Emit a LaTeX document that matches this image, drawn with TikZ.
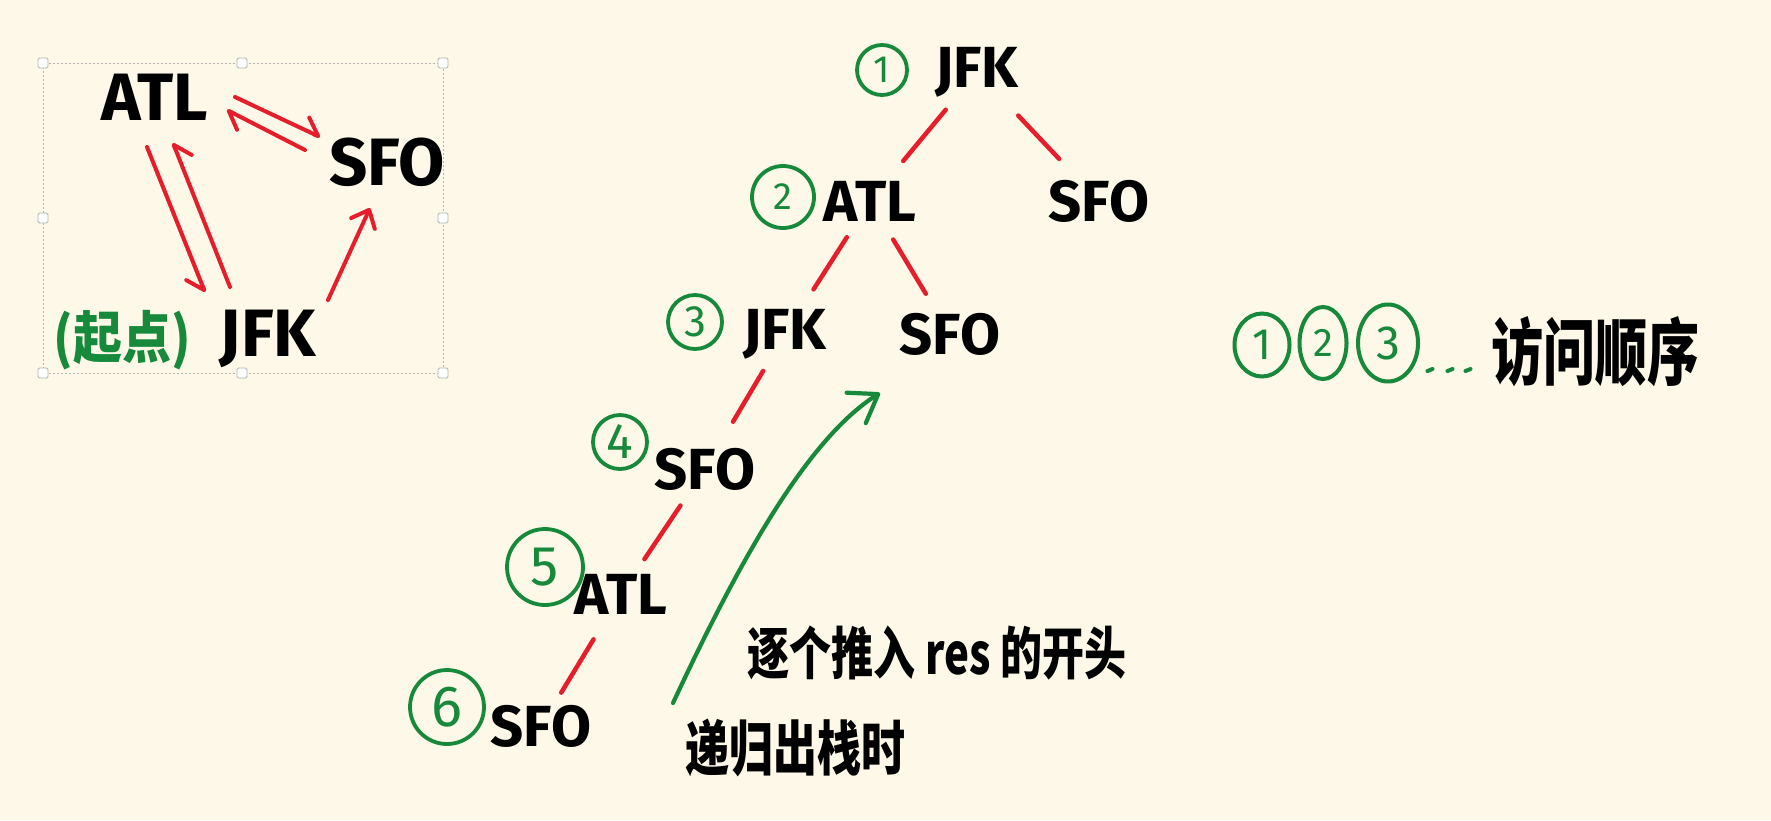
\documentclass[tikz,border=0pt]{standalone}
\usepackage{fontspec}
\setmainfont{Fira Sans}
\newfontfamily\cjk{Noto Sans CJK SC}
\usetikzlibrary{arrows.meta,shapes.geometric}
\definecolor{bgc}{HTML}{FDF8E7}
\definecolor{grn}{HTML}{17893A}
\definecolor{rd}{HTML}{E61E2B}
\definecolor{hdl}{HTML}{B4B4B4}
\begin{document}
\begin{tikzpicture}[x=1pt,y=-1pt,
  lbl/.style={font=\fontsize{58}{60}\selectfont\bfseries, inner sep=0pt},
  lblL/.style={font=\fontsize{67}{70}\selectfont\bfseries, inner sep=0pt},
  tedge/.style={draw=rd, line width=4.5pt, line cap=round},
  redarr/.style={draw=rd, line width=4pt, line cap=round},
  harp/.style={-{Straight Barb[harpoon,length=16pt,width=26pt,round]}},
  harps/.style={-{Straight Barb[harpoon,swap,length=16pt,width=26pt,round]}},
  fullhd/.style={-{Straight Barb[length=15pt,width=26pt,round]}},
  num/.style={circle, draw=grn, line width=3.8pt, text=grn, inner sep=0pt},
  lgd/.style={ellipse, draw=grn, line width=4pt, text=grn, inner sep=0pt},
  handle/.style={draw=hdl, fill=white, minimum size=10pt, inner sep=0pt, rounded corners=1.5pt, line width=0.8pt},
  cjktext/.style={inner sep=0pt, text=black},
]
\useasboundingbox (0,0) rectangle (1771,820);
\fill[bgc] (0,0) rectangle (1771,820);

% ---- left box ----
\draw[hdl, line width=1pt, dash pattern=on 2pt off 2pt] (43,63) rectangle (443,373);
\foreach \p/\n in {{(43,63)}/h1,{(242,63)}/h2,{(443,63)}/h3,{(43,218)}/h4,{(443,218)}/h5,{(43,373)}/h6,{(242,373)}/h7,{(443,373)}/h8}
  \node[handle] (\n) at \p {};

\node[lblL] (atlL) at (155,97) {ATL};
\node[lblL] (sfoL) at (387,162) {SFO};
\node[lblL] (jfkL) at (268,339) {JFK};
\node[cjktext, text=grn, font=\cjk\fontsize{49}{50}\selectfont\bfseries] (start) at (122,340) {\scalebox{1}[1.15]{(起点)}};

\draw[redarr, harp] ([shift={(80,0)}]atlL.center) -- ([shift={(-67,-25)}]sfoL.center);
\draw[redarr, harp] ([shift={(-82,-12)}]sfoL.center) -- ([shift={(72,13)}]atlL.center);
\draw[redarr, harps] ([shift={(-8,50)}]atlL.center) -- ([shift={(-63,-47)}]jfkL.center);
\draw[redarr, harps] ([shift={(-38,-52)}]jfkL.center) -- ([shift={(18,46)}]atlL.center);
\draw[redarr, fullhd] ([shift={(60,-39)}]jfkL.center) -- ([shift={(-17,46)}]sfoL.center);

% ---- tree ----
\node[lbl] (jfk1) at (977,72) {JFK};
\node[lbl] (atl2) at (870,201) {ATL};
\node[lbl] (sfo2) at (1099,201) {SFO};
\node[lbl] (jfk3) at (785,334) {JFK};
\node[lbl] (sfo3) at (950,334) {SFO};
\node[lbl] (sfo4) at (705,469) {SFO};
\node[lbl] (atl5) at (621,594) {ATL};
\node[lbl] (sfo6) at (541,726) {SFO};

\draw[tedge, shorten <=49pt, shorten >=52pt] (jfk1.center) -- (atl2.center);
\draw[tedge, shorten <=60pt, shorten >=58pt] (jfk1.center) -- (sfo2.center);
\draw[tedge, shorten <=43pt, shorten >=53pt] (atl2.center) -- (jfk3.center);
\draw[tedge, shorten <=45pt, shorten >=47pt] (atl2.center) -- (sfo3.center);
\draw[tedge, shorten <=43pt, shorten >=55pt] (jfk3.center) -- (sfo4.center);
\draw[tedge, shorten <=44pt, shorten >=42pt] (sfo4.center) -- (atl5.center);
\draw[tedge, shorten <=53pt, shorten >=39pt] (atl5.center) -- (sfo6.center);

% circled numbers
\node[num, minimum size=50pt, font=\fontsize{38}{40}\selectfont] (n1) at (882,70) {1};
\node[num, minimum size=62pt, font=\fontsize{38}{40}\selectfont] (n2) at (783,197) {2};
\node[num, minimum size=54pt, font=\fontsize{44}{46}\selectfont] (n3) at (695,322) {3};
\node[num, minimum size=54pt, font=\fontsize{50}{52}\selectfont] (n4) at (620,442) {4};
\node[num, minimum size=76pt, font=\fontsize{56}{58}\selectfont] (n5) at (545,567) {5};
\node[num, minimum size=74pt, font=\fontsize{58}{60}\selectfont] (n6) at (447,707) {6};

% green arrow
\coordinate (gs) at (673,703);
\coordinate (ge) at (880,393);
\draw[grn, line width=4.2pt, line cap=round, -{Straight Barb[length=26pt,width=36pt,round]}]
  (gs) .. controls (735,570) and (805,440) .. (ge);

\node[cjktext, font=\cjk\fontsize{42}{44}\selectfont\bfseries] (push) at (937,653) {\scalebox{1}[1.35]{逐个推入 res 的开头}};
\node[cjktext, font=\cjk\fontsize{44}{46}\selectfont\bfseries] (pop) at (795,748) {\scalebox{1}[1.35]{递归出栈时}};

% ---- legend ----
\node[lgd, minimum width=55pt, minimum height=63pt, font=\fontsize{44}{46}\selectfont] (l1) at (1262,345) {1};
\node[lgd, minimum width=47pt, minimum height=72pt, font=\fontsize{40}{42}\selectfont] (l2) at (1323,343) {2};
\node[lgd, minimum width=60pt, minimum height=77pt, font=\fontsize{48}{50}\selectfont] (l3) at (1388,343) {3};
\foreach \x in {1430,1450,1468}
  \draw[grn, line width=4pt, line cap=round] (\x-2.5,371) -- (\x+2.5,369);
\node[cjktext, font=\cjk\fontsize{52}{54}\selectfont\bfseries] (order) at (1595,352) {\scalebox{1}[1.4]{访问顺序}};
\end{tikzpicture}
\end{document}
